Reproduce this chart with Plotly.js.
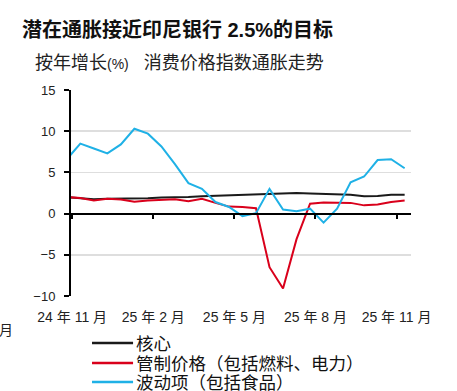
<!DOCTYPE html>
<html><head><meta charset="utf-8">
<script src="https://cdn.plot.ly/plotly-3.0.1.min.js"></script>
<style>html,body{margin:0;padding:0;background:#fff}#chart{width:457px;height:391px}</style>
</head><body><div id="chart"></div>
<script>
// half-month observation index
const periodIndex = [0,1,2,3,4,5,6,7,8,9,10,11,12,13,14,15,16,17,18,19,20,21,22,23,24,25];
const coreValues = [2.0,1.9,1.75,1.8,1.8,1.8,1.85,1.95,1.95,2.0,2.1,2.15,2.25,2.3,2.35,2.4,2.45,2.5,2.45,2.4,2.35,2.3,2.1,2.15,2.3,2.3];
const administeredValues = [2.0,1.9,1.6,1.8,1.7,1.45,1.6,1.65,1.75,1.5,1.8,1.3,0.85,0.8,0.65,-6.5,-9.1,-3.1,1.2,1.35,1.35,1.3,1.0,1.1,1.4,1.6];
const volatileValues = [6.6,8.5,7.9,7.3,8.4,10.3,9.7,8.15,6.0,3.7,3.0,1.4,0.8,-0.3,0.05,3.0,0.5,0.3,0.6,-1.1,0.6,3.8,4.5,6.5,6.6,5.5];
const seriesNames = ['核心','管制价格（包括燃料、电力）','波动项（包括食品）'];
const seriesColors = ['#1a1a1a','#d9001b','#1fb1e6'];
const tickPositions = [0.4,6.4,12.4,18.4,24.4];
const tickLabels = ['24 年 11 月','25 年 2 月','25 年 5 月','25 年 8 月','25 年 11 月'];
const yTicks = [-10,-5,0,5,10,15];
const titleText = '潜在通胀接近印尼银行 2.5%的目标';
const subtitleText = '按年增长<span style="font-size:14px">(%)</span>\u00a0\u00a0\u00a0消费价格指数通胀走势';

const FONT = 'Liberation Sans, Arial, Noto Sans CJK SC, sans-serif';
const xRange = [0.31, 25.47];
const seriesValues = [coreValues, administeredValues, volatileValues];

const traces = seriesValues.map((vals, i) => ({
  x: periodIndex, y: vals, type: 'scatter', mode: 'lines',
  name: seriesNames[i], line: {color: seriesColors[i], width: 2},
  xaxis: i === 2 ? 'x2' : 'x', yaxis: 'y', showlegend: false
}));

const legendRows = [-0.228, -0.325, -0.417];
const shapes = legendRows.map((yy, i) => ({
  type: 'line', xref: 'paper', yref: 'paper', x0: 0.0618, x1: 0.1825, y0: yy, y1: yy,
  line: {color: seriesColors[i], width: 2.5}
}));
const annotations = legendRows.map((yy, i) => ({
  xref: 'paper', yref: 'paper', x: 0.186, y: yy - 0.006, xanchor: 'left', yanchor: 'middle',
  text: seriesNames[i], showarrow: false, font: {family: FONT, size: 17.5, color: '#111'}
}));
annotations.push({
  xref: 'paper', yref: 'paper', x: -0.112, y: 1.131, xanchor: 'left', yanchor: 'middle',
  text: subtitleText, showarrow: false, font: {family: FONT, size: 18, color: '#222'}
});
annotations.push({
  xref: 'paper', yref: 'paper', x: -0.219, y: -0.163, xanchor: 'left', yanchor: 'middle',
  text: '月', showarrow: false, font: {family: FONT, size: 14, color: '#222'}
});

const layout = {
  width: 457, height: 391,
  margin: {l: 71, r: 46.3, t: 90, b: 95, pad: 0},
  paper_bgcolor: '#fff', plot_bgcolor: '#fff',
  showlegend: false,
  title: {text: '<b>' + titleText + '</b>', xref: 'container', yref: 'container',
          x: 0.048, xanchor: 'left', y: 0.923, yanchor: 'middle',
          font: {family: FONT, size: 20, color: '#111'}},
  xaxis: {range: xRange, tickvals: tickPositions, ticktext: tickLabels,
          showgrid: false, zeroline: false, showline: false, ticks: '',
          ticklabelstandoff: 11, tickfont: {family: FONT, size: 14, color: '#222'}},
  xaxis2: {range: xRange, overlaying: 'x', anchor: 'free', position: 0.4,
           tickvals: tickPositions, showticklabels: false, ticks: 'outside',
           ticklen: 4, tickwidth: 2, tickcolor: '#000', showline: true,
           linecolor: '#000', linewidth: 2, showgrid: false, zeroline: false},
  yaxis: {range: [-10, 15], tickvals: yTicks, showgrid: true, gridcolor: '#dedede', gridwidth: 1.5,
          zeroline: false, showline: true, linecolor: '#000', linewidth: 2,
          ticks: 'outside', ticklen: 5, tickwidth: 2, tickcolor: '#000',
          ticklabelstandoff: 6, tickfont: {family: FONT, size: 13, color: '#222'}},
  shapes: shapes, annotations: annotations
};

Plotly.newPlot('chart', traces, layout, {staticPlot: true, displayModeBar: false});
</script>
</body></html>
